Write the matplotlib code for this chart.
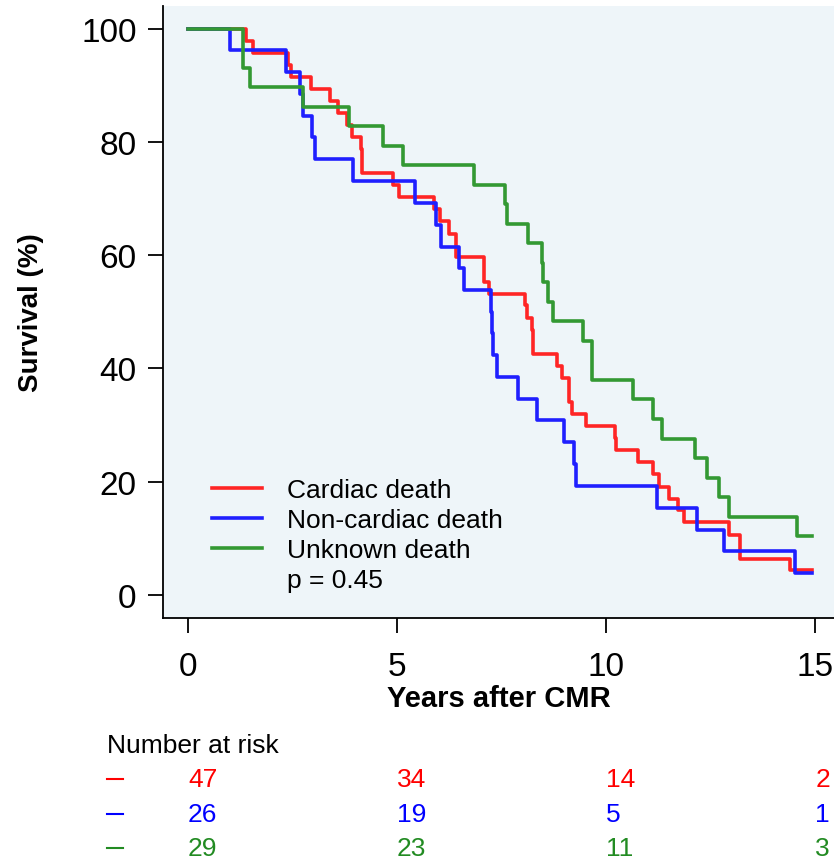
import matplotlib.pyplot as plt
import matplotlib.transforms as mtransforms
from matplotlib.lines import Line2D

# step times (years) and survival (%) after each step
cardiac_t = [0, 1.39, 1.56, 2.38, 2.47, 2.93, 3.40, 3.58, 3.79, 3.91, 4.13, 4.17, 4.91, 5.04,
             5.88, 6.03, 6.23, 6.41, 7.07, 7.19, 8.06, 8.10, 8.22, 8.26, 8.82, 8.94, 9.12,
             9.18, 9.52, 10.21, 10.24, 10.75, 11.13, 11.27, 11.51, 11.73, 11.87, 12.93,
             13.21, 14.39]
cardiac_s = [100, 97.9, 95.7, 93.6, 91.5, 89.4, 87.2, 85.1, 83.0, 80.9, 78.7, 74.5, 72.3, 70.2,
             68.1, 66.0, 63.8, 59.6, 55.3, 53.2, 51.1, 48.9, 46.8, 42.6, 40.4, 38.3, 34.0,
             31.9, 29.8, 27.7, 25.5, 23.4, 21.3, 19.1, 17.0, 14.9, 12.8, 10.6,
             6.4, 4.3]

noncardiac_t = [0, 1.00, 2.34, 2.68, 2.76, 2.96, 3.04, 3.94, 5.43, 5.93, 6.05, 6.49, 6.59,
                7.24, 7.27, 7.30, 7.38, 7.88, 8.35, 8.98, 9.22, 9.28, 11.21, 12.18, 12.82, 14.52]
noncardiac_s = [100, 96.2, 92.3, 88.5, 84.6, 80.8, 76.9, 73.1, 69.2, 65.4, 61.5, 57.7, 53.8,
                50.0, 46.2, 42.3, 38.5, 34.6, 30.8, 26.9, 23.1, 19.2, 15.4, 11.5, 7.7, 3.8]

unknown_t = [0, 1.31, 1.47, 2.74, 3.86, 4.67, 5.15, 6.84, 7.58, 7.62, 8.14, 8.46, 8.50, 8.62,
             8.74, 9.44, 9.67, 10.65, 11.12, 11.33, 12.13, 12.42, 12.69, 12.93, 14.56]
unknown_s = [100, 93.1, 89.7, 86.2, 82.8, 79.3, 75.9, 72.4, 69.0, 65.5, 62.1, 58.6, 55.2, 51.7,
             48.3, 44.8, 37.9, 34.5, 31.0, 27.6, 24.1, 20.7, 17.2, 13.8, 10.3]

end_time = 14.92

risk_times = [0, 5, 10, 15]
risk_cardiac = [47, 34, 14, 2]
risk_noncardiac = [26, 19, 5, 1]
risk_unknown = [29, 23, 11, 3]

labels = ['Cardiac death', 'Non-cardiac death', 'Unknown death']
colors = ['#ff2525', '#1f1fff', '#339933']
text_colors = ['#ff0000', '#0000ff', '#228b22']

plt.rcParams['font.family'] = ['Liberation Sans', 'DejaVu Sans']

fig = plt.figure(figsize=(8.34, 8.62), dpi=100)
ax = fig.add_axes([163 / 834, 1 - 619 / 862, 671 / 834, 612 / 862])
ax.set_facecolor('#eef5f9')

curves = [(cardiac_t, cardiac_s), (noncardiac_t, noncardiac_s), (unknown_t, unknown_s)]
handles = []
for (t, s), c, lab in zip(curves, colors, labels):
    h, = ax.step(t + [end_time], s + [s[-1]], where='post', color=c, lw=2.6, label=lab)
    handles.append(h)

ax.set_xlim(-0.6, 15.45)
ax.set_ylim(-4.1, 104)
ax.set_xticks([0, 5, 10, 15])
ax.set_yticks([0, 20, 40, 60, 80, 100])
ax.tick_params(axis='both', labelsize=24, length=11, width=1.3, direction='out')
ax.tick_params(axis='x', pad=13)
ax.tick_params(axis='y', pad=8)
for side in ['top', 'right']:
    ax.spines[side].set_visible(False)
for side in ['left', 'bottom']:
    ax.spines[side].set_linewidth(1.3)

ax.set_xlabel('Years after CMR', fontsize=21, fontweight='bold', labelpad=1)
ax.set_ylabel('Survival (%)', fontsize=20, fontweight='bold', labelpad=27)

p_handle = Line2D([], [], color='none')
ax.legend(handles + [p_handle], labels + ['p = 0.45'], loc='upper left',
          bbox_to_anchor=(0.073, 0.229), frameon=False, fontsize=19,
          handlelength=1.9, handletextpad=0.95, labelspacing=0.23,
          borderpad=0, borderaxespad=0)

# number at risk table
trans = mtransforms.blended_transform_factory(ax.transData, fig.transFigure)
fig.text(107 / 834, 1 - 746 / 862, 'Number at risk', fontsize=19, va='center', ha='left')
rows = [risk_cardiac, risk_noncardiac, risk_unknown]
row_y = [1 - 780 / 862, 1 - 815 / 862, 1 - 849 / 862]
for vals, yy, c, tc in zip(rows, row_y, colors, text_colors):
    fig.add_artist(Line2D([107 / 834, 123 / 834], [yy, yy], color=tc, lw=1.5,
                          transform=fig.transFigure))
    for t, v in zip(risk_times, vals):
        ax.text(t, yy, str(v), transform=trans, color=tc, fontsize=19,
                ha='left', va='center')

fig.savefig('out.png', dpi=100)
